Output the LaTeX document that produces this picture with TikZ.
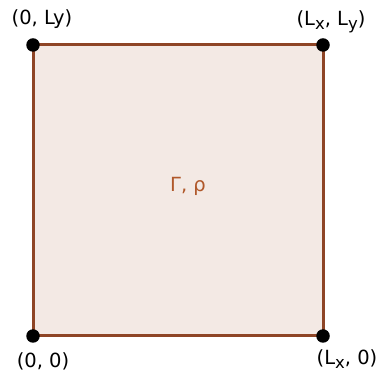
\documentclass[tikz,border=0pt]{standalone}
\usepackage{fontspec}
\setmainfont{DejaVu Sans}
\definecolor{edgebrown}{HTML}{8E4526}
\definecolor{fillpink}{HTML}{F3E9E4}
\definecolor{txtbrown}{HTML}{B0582A}
\newcommand{\mysub}[1]{\raisebox{-0.4ex}{\fontsize{16.5}{16.5}\selectfont #1}}
\begin{document}
\begin{tikzpicture}[x=1pt,y=1pt,
  dot/.style={circle,fill=black,inner sep=0pt,minimum size=13.5pt},
  lbl/.style={font=\fontsize{19.5}{22}\selectfont,text=black,inner sep=0pt}]
\useasboundingbox (0,0) rectangle (385,374);
\coordinate (bl) at (33,38);
\coordinate (br) at (323,38);
\coordinate (tr) at (323,329);
\coordinate (tl) at (33,329);
\draw[edgebrown,line width=3pt,fill=fillpink] (bl) -- (br) -- (tr) -- (tl) -- cycle;
\node[dot] (n00) at (bl) {};
\node[dot] (nx0) at (br) {};
\node[dot] (nxy) at (tr) {};
\node[dot] (n0y) at (tl) {};
\node[lbl] (l0y) at (42,355) {(0, Ly)};
\node[lbl] (lxy) at (331,352) {(L\mysub{x}, L\mysub{y})};
\node[lbl] (l00) at (43,13) {(0, 0)};
\node[lbl] (lx0) at (347,15) {(L\mysub{x}, 0)};
\node[font=\fontsize{19.5}{22}\selectfont,text=txtbrown] (c) at (188,188) {Γ, ρ};
\end{tikzpicture}
\end{document}
